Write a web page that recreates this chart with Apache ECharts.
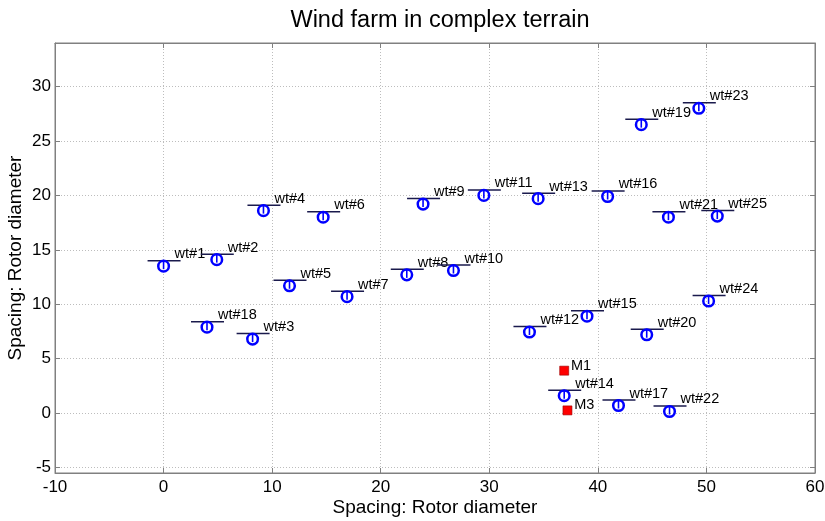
<!DOCTYPE html>
<html>
<head>
<meta charset="utf-8">
<script src="https://cdn.jsdelivr.net/npm/echarts@6/dist/echarts.min.js"></script>
<style>
html,body{margin:0;padding:0;background:#fff;}
#chart{width:825px;height:521px;}
</style>
</head>
<body>
<div id="chart"></div>
<script>
// Turbines
const turbineNames = ['wt#1','wt#2','wt#3','wt#4','wt#5','wt#6','wt#7','wt#8','wt#9','wt#10',
  'wt#11','wt#12','wt#13','wt#14','wt#15','wt#16','wt#17','wt#18','wt#19','wt#20',
  'wt#21','wt#22','wt#23','wt#24','wt#25'];
const turbineX = [0.0, 4.9, 8.2, 9.2, 11.6, 14.7, 16.9, 22.4, 23.9, 26.7,
  29.5, 33.7, 34.5, 36.9, 39.0, 40.9, 41.9, 4.0, 44.0, 44.5,
  46.5, 46.6, 49.3, 50.2, 51.0];
const turbineY = [13.5, 14.1, 6.8, 18.6, 11.7, 18.0, 10.7, 12.7, 19.2, 13.1,
  20.0, 7.45, 19.7, 1.6, 8.9, 19.9, 0.7, 7.9, 26.5, 7.2,
  18.0, 0.15, 28.0, 10.3, 18.1];
// Met masts
const mastNames = ['M1','M3'];
const mastX = [36.9, 37.2];
const mastY = [3.9, 0.25];
// Axes
const xTicks = [-10, 0, 10, 20, 30, 40, 50, 60];
const yTicks = [-5, 0, 5, 10, 15, 20, 25, 30];

const FONT = 'Liberation Sans, Arial, sans-serif';
const turbineData = turbineX.map((x, i) => [x, turbineY[i], turbineNames[i]]);
const mastData = mastX.map((x, i) => [x, mastY[i], mastNames[i]]);

const chart = echarts.init(document.getElementById('chart'));
const gridLine = {show: true, lineStyle: {color: '#bdbdbd', type: [1, 2], width: 1}};
const axisCommon = {
  axisLine: {show: true, onZero: false, lineStyle: {color: '#808080', width: 1}},
  axisTick: {show: true, inside: true, length: 5, lineStyle: {color: '#808080'}},
};
chart.setOption({
  animation: false,
  backgroundColor: '#fff',
  title: {
    text: 'Wind farm in complex terrain',
    left: 435, textAlign: 'center', top: 4,
    textStyle: {fontFamily: FONT, fontSize: 23.5, fontWeight: 'normal', color: '#000'}
  },
  grid: {left: 55, right: 10, top: 43, bottom: 48, containLabel: false, outerBoundsMode: 'none',
    show: true, borderColor: '#808080', borderWidth: 1},
  xAxis: [{
    type: 'value', min: xTicks[0], max: xTicks[xTicks.length - 1], interval: 10,
    name: 'Spacing: Rotor diameter', nameLocation: 'middle', nameGap: 25, nameMoveOverlap: false,
    nameTextStyle: {fontFamily: FONT, fontSize: 19, color: '#000'},
    ...axisCommon,
    axisLabel: {fontFamily: FONT, fontSize: 17, color: '#000', margin: 6},
    splitLine: gridLine
  }, {
    type: 'value', position: 'top', min: xTicks[0], max: xTicks[xTicks.length - 1], interval: 10,
    ...axisCommon, axisLabel: {show: false}, splitLine: {show: false}
  }],
  yAxis: [{
    type: 'value', min: -5.5, max: 34, splitNumber: 8,
    name: 'Spacing: Rotor diameter', nameLocation: 'middle', nameGap: 30, nameMoveOverlap: false,
    nameTextStyle: {fontFamily: FONT, fontSize: 19, color: '#000'},
    ...axisCommon,
    axisLabel: {fontFamily: FONT, fontSize: 17, color: '#000', margin: 4,
      formatter: v => (yTicks.indexOf(v) >= 0 ? String(v) : '')},
    splitLine: gridLine
  }, {
    type: 'value', position: 'right', min: -5.5, max: 34, splitNumber: 8,
    ...axisCommon, axisLabel: {show: false}, splitLine: {show: false}
  }],
  series: [{
    type: 'custom',
    xAxisIndex: 0, yAxisIndex: 0,
    data: turbineData,
    renderItem: function (params, api) {
      const p = api.coord([api.value(0), api.value(1)]);
      const name = turbineNames[params.dataIndex];
      return {
        type: 'group',
        children: [
          {type: 'line', shape: {x1: p[0] - 16, y1: p[1] - 5.5, x2: p[0] + 17, y2: p[1] - 5.5},
            style: {stroke: '#1a1a4d', lineWidth: 1.5}},
          {type: 'circle', shape: {cx: p[0], cy: p[1], r: 5.3},
            style: {fill: 'rgba(255,255,255,0)', stroke: '#0000ff', lineWidth: 2.5}},
          {type: 'line', shape: {x1: p[0], y1: p[1] - 6, x2: p[0], y2: p[1] + 3},
            style: {stroke: '#0000ff', lineWidth: 1.6}},
          {type: 'text', x: p[0] + 11, y: p[1] - 12,
            style: {text: name, fill: '#000', fontFamily: FONT, fontSize: 14.5,
              verticalAlign: 'middle', align: 'left'}}
        ]
      };
    }
  }, {
    type: 'scatter',
    xAxisIndex: 0, yAxisIndex: 0,
    data: mastData,
    symbol: 'rect', symbolSize: 9,
    itemStyle: {color: '#ff0000', borderColor: '#990000', borderWidth: 0.6, opacity: 1},
    label: {show: true, position: 'right', distance: 2, offset: [0, -5],
      formatter: p => p.data[2], fontFamily: FONT, fontSize: 14.5, color: '#000', opacity: 1}
  }]
});
</script>
</body>
</html>
